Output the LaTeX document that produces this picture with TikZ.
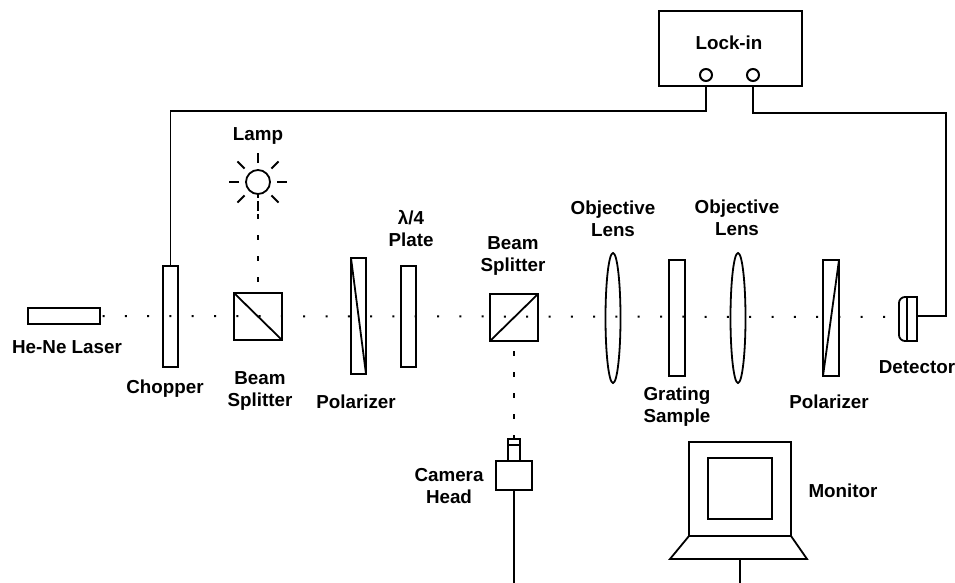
\documentclass[tikz,border=0pt]{standalone}
\usepackage{fontspec}
\setmainfont{Liberation Sans}
\usetikzlibrary{calc,shapes.geometric}
\tikzset{
  part/.style={draw, rectangle, inner sep=0pt, outer sep=0pt},
  lensbody/.style={draw, ellipse, inner sep=0pt, outer sep=0pt, minimum width=15pt, minimum height=130pt},
  port/.style={draw, circle, line width=2pt, inner sep=0pt, outer sep=0pt, minimum size=12pt},
  lbl/.style={align=center, inner sep=0pt, font=\fontsize{18.8}{22}\selectfont\bfseries},
  wire/.style={line width=1.9pt},
  beamh/.style={line width=2pt, dash pattern=on 2pt off 20.3pt, dash phase=19.8pt},
  beamv/.style={line width=2pt, dash pattern=on 4.5pt off 16.5pt}
}
\begin{document}
\begin{tikzpicture}[x=1pt, y=-1pt, line width=1.8pt, line join=miter]
  \useasboundingbox (0,0) rectangle (955,583);
  % sources and optics on the bench
  \node[part, minimum width=72pt, minimum height=16pt] (laser) at (64,316) {};
  \node[part, minimum width=15pt, minimum height=101pt] (chopper) at (170.5,316.5) {};
  \node[part, minimum width=48pt, minimum height=47pt] (splita) at (258,316.5) {};
  \node[part, minimum width=15pt, minimum height=116pt] (pola) at (358.5,316) {};
  \node[part, minimum width=15pt, minimum height=101pt] (plate) at (408.5,316.5) {};
  \node[part, minimum width=48pt, minimum height=47pt] (splitb) at (514,317.5) {};
  \node[lensbody] (lensa) at (613,318) {};
  \node[part, minimum width=16pt, minimum height=116pt] (sample) at (677,318) {};
  \node[lensbody] (lensb) at (738,318) {};
  \node[part, minimum width=16pt, minimum height=116pt] (polb) at (831,318) {};
  \node[part, minimum width=10pt, minimum height=44pt] (detector) at (912,319) {};
  \coordinate (beamend) at (890,317);
  \draw (splita.north west) -- (splita.south east);
  \draw (splitb.south west) -- (splitb.north east);
  \draw (pola.north west) -- (pola.south east);
  \draw (polb.south west) -- (polb.north east);
  \draw[rounded corners=6pt] (detector.north west) -- ++(-8,0) -- ++(0,44) -- (detector.south west);
  % lamp
  \node[draw, circle, inner sep=0pt, outer sep=0pt, minimum size=24pt] (lamp) at (258,182) {};
  \foreach \ang in {0,45,...,315}
    \draw[line width=2pt] (lamp.center) ++(\ang:19) -- ++(\ang:10);
  % lock-in
  \node[part, minimum width=143pt, minimum height=75pt] (lockin) at (730.5,48.5) {};
  \node[port] (porta) at (706,75) {};
  \node[port] (portb) at (753,75) {};
  % camera
  \node[part, minimum width=12pt, minimum height=22pt] (camlens) at (514,450) {};
  \node[part, minimum width=36pt, minimum height=29pt] (camera) at (514,475.5) {};
  \draw ([yshift=-6pt]camlens.north west) -- ([yshift=-6pt]camlens.north east);
  \coordinate (camend) at (514,583);
  % monitor
  \node[part, minimum width=102pt, minimum height=94pt] (monitor) at (740,489) {};
  \node[part, minimum width=64pt, minimum height=61pt] (screen) at (740,488.5) {};
  \coordinate (standl) at (670,559);
  \coordinate (standr) at (807,559);
  \coordinate (standm) at (740,559);
  \coordinate (monend) at (740,583);
  \draw (monitor.south west) -- (standl) -- (standr) -- (monitor.south east);
  % beams
  \draw[beamh] (laser.east) -- (beamend);
  \draw[beamv, dash phase=1pt] (lamp.south) -- (splita.north);
  \draw[beamv, dash phase=11pt] (splitb.south) -- (camlens.north);
  % cables
  \draw[wire] (porta.south |- lockin.south) -- ++(0,25) -| (chopper.north);
  \draw[wire] (portb.south |- lockin.south) -- ++(0,27) -| ($(detector.east)+(29,-3)$) -- ($(detector.east)+(0,-3)$);
  \draw[wire] (camera.south) -- (camend);
  \draw[wire] (standm) -- (monend);
  % labels
  \node[lbl] (lasertxt) at (67,347) {He-Ne Laser};
  \node[lbl] (choppertxt) at (165,389) {Chopper};
  \node[lbl] (lamptxt) at (258,136) {Lamp};
  \node[lbl] (splitatxt) at (260,390.5) {Beam\\Splitter};
  \node[lbl] (polatxt) at (356,402) {Polarizer};
  \node[lbl] (platetxt) at (411,229) {λ/4\\Plate};
  \node[lbl] (splitbtxt) at (513,255.5) {Beam\\Splitter};
  \node[lbl] (lensatxt) at (613,218.5) {Objective\\Lens};
  \node[lbl] (lensbtxt) at (737,217.5) {Objective\\Lens};
  \node[lbl] (sampletxt) at (677,407) {Grating\\Sample};
  \node[lbl] (polbtxt) at (829,402) {Polarizer};
  \node[lbl] (detectortxt) at (917,367) {Detector};
  \node[lbl] (cameratxt) at (449,486) {Camera\\Head};
  \node[lbl] (monitortxt) at (843,491) {Monitor};
  \node[lbl] (lockintxt) at (729,43) {Lock-in};
\end{tikzpicture}
\end{document}
